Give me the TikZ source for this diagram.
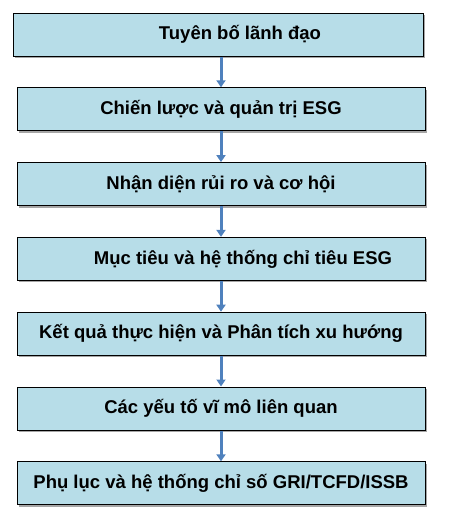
\documentclass[tikz,border=0pt]{standalone}
\usepackage{fontspec}
\setmainfont{Liberation Sans}
\usepackage{tikz}
\usetikzlibrary{positioning,arrows.meta,shadows}
\definecolor{boxblue}{HTML}{B7DDE8}
\definecolor{arrowblue}{HTML}{4F81BD}

\begin{document}
\begin{tikzpicture}[x=1pt,y=1pt,node distance=30.8pt,
    stage/.style={rectangle,draw=black,line width=1pt,fill=boxblue,
      minimum width=408pt,minimum height=43pt,inner sep=0pt,
      font=\bfseries\fontsize{18.5}{22}\selectfont,
      drop shadow={shadow xshift=2pt,shadow yshift=-2pt,fill=black,opacity=0.35}},
    link/.style={draw=arrowblue,line width=3pt,-{Triangle[width=9pt,length=7pt]}}]

  \useasboundingbox (0,0) rectangle (451,-515);

  \node[stage,minimum width=410pt] (b1) at (218,-34.5) {\hspace*{44pt}Tuyên bố lãnh đạo};
  \node[stage] (b2) [below=of b1.south,anchor=north,xshift=3pt] {Chiến lược và quản trị ESG};
  \node[stage] (b3) [below=of b2]       {Nhận diện rủi ro và cơ hội};
  \node[stage] (b4) [below=of b3]       {\hspace*{44pt}Mục tiêu và hệ thống chỉ tiêu ESG};
  \node[stage] (b5) [below=of b4]       {Kết quả thực hiện và Phân tích xu hướng};
  \node[stage] (b6) [below=of b5]       {Các yếu tố vĩ mô liên quan};
  \node[stage] (b7) [below=of b6]       {Phụ lục và hệ thống chỉ số GRI/TCFD/ISSB};

  \foreach \a/\b in {1/2,2/3,3/4,4/5,5/6,6/7}
    \path[link] (b\a.south -| b\b.north) -- (b\b.north);
\end{tikzpicture}
\end{document}
